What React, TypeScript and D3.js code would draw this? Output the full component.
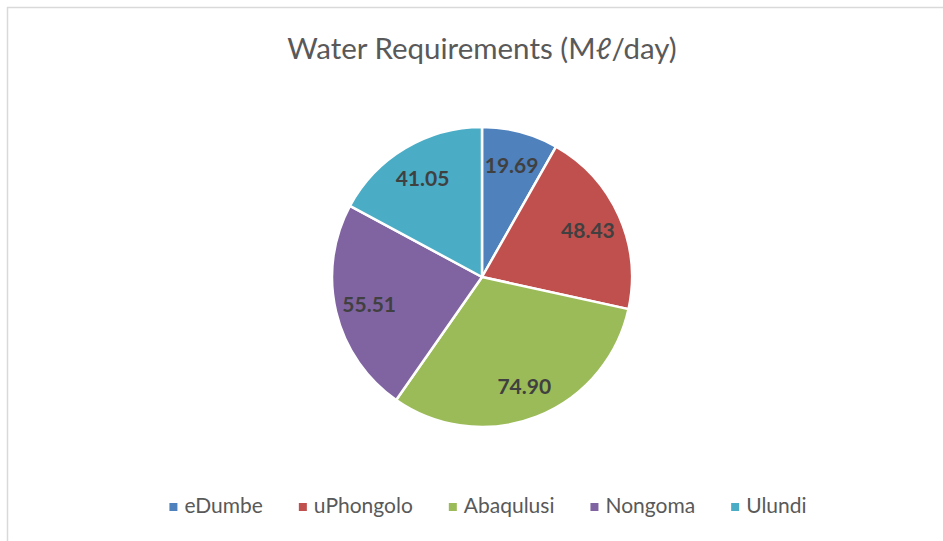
import React, { useRef, useEffect } from 'react';
import * as d3 from 'd3';

const municipalities = ['eDumbe', 'uPhongolo', 'Abaqulusi', 'Nongoma', 'Ulundi'];
const requirements = [19.69, 48.43, 74.9, 55.51, 41.05];
const sliceColors = ['#4F81BD', '#C0504D', '#9BBB59', '#8064A2', '#4BACC6'];
const chartTitle = 'Water Requirements (M\u2113/day)';

const W = 943;
const H = 541;

export default function App() {
  const svgRef = useRef<SVGSVGElement>(null);

  useEffect(() => {
    const svg = d3.select(svgRef.current);
    svg.selectAll('*').remove();
    const font = 'Lato, "Open Sans", sans-serif';

    // chart area border
    svg.append('rect')
      .attr('x', 7.5).attr('y', 7.5)
      .attr('width', 1000).attr('height', 1000)
      .attr('fill', '#fff')
      .attr('stroke', '#d9d9d9')
      .attr('stroke-width', 1.5);

    svg.append('text')
      .attr('x', 482).attr('y', 59)
      .attr('text-anchor', 'middle')
      .attr('font-family', font)
      .attr('font-size', 29.5)
      .attr('fill', '#595959')
      .text(chartTitle);

    const data = municipalities.map((name, i) => ({ name, value: requirements[i] }));
    const cx = 482, cy = 277, radius = 150;

    const pie = d3.pie<any>().value(d => d.value).sort(null);
    const arc = d3.arc<any>().innerRadius(0).outerRadius(radius);
    const labelArc = d3.arc<any>().innerRadius(116).outerRadius(116);
    const color = d3.scaleOrdinal<string, string>().domain(municipalities).range(sliceColors);

    const g = svg.append('g').attr('transform', `translate(${cx},${cy})`);
    const arcs = pie(data);

    g.selectAll('path')
      .data(arcs)
      .join('path')
      .attr('d', arc)
      .attr('fill', d => color(d.data.name))
      .attr('stroke', '#fff')
      .attr('stroke-width', 2.5)
      .attr('stroke-linejoin', 'round');

    g.selectAll('text')
      .data(arcs)
      .join('text')
      .attr('transform', d => `translate(${labelArc.centroid(d)})`)
      .attr('text-anchor', 'middle')
      .attr('dominant-baseline', 'central')
      .attr('font-family', font)
      .attr('font-weight', 'bold')
      .attr('font-size', 21)
      .attr('fill', '#404040')
      .text(d => d3.format('.2f')(d.data.value));

    // legend, centred under the pie
    const legend = svg.append('g');
    const items = legend.selectAll('g')
      .data(municipalities)
      .join('g');
    items.append('rect')
      .attr('width', 8).attr('height', 8)
      .attr('y', -10)
      .attr('fill', d => color(d));
    items.append('text')
      .attr('x', 15)
      .attr('font-family', font)
      .attr('font-size', 21)
      .attr('fill', '#595959')
      .text(d => d);

    const gap = 36;
    let x = 0;
    items.each(function () {
      const item = d3.select(this);
      const tw = (item.select('text').node() as SVGTextElement).getComputedTextLength();
      item.attr('transform', `translate(${x},0)`);
      x += 15 + tw + gap;
    });
    const total = x - gap;
    legend.attr('transform', `translate(${488 - total / 2},${513})`);
  }, []);

  return (
    <svg
      ref={svgRef}
      width={W}
      height={H}
      style={{ position: 'absolute', left: 0, top: 0, background: '#fff' }}
    />
  );
}
